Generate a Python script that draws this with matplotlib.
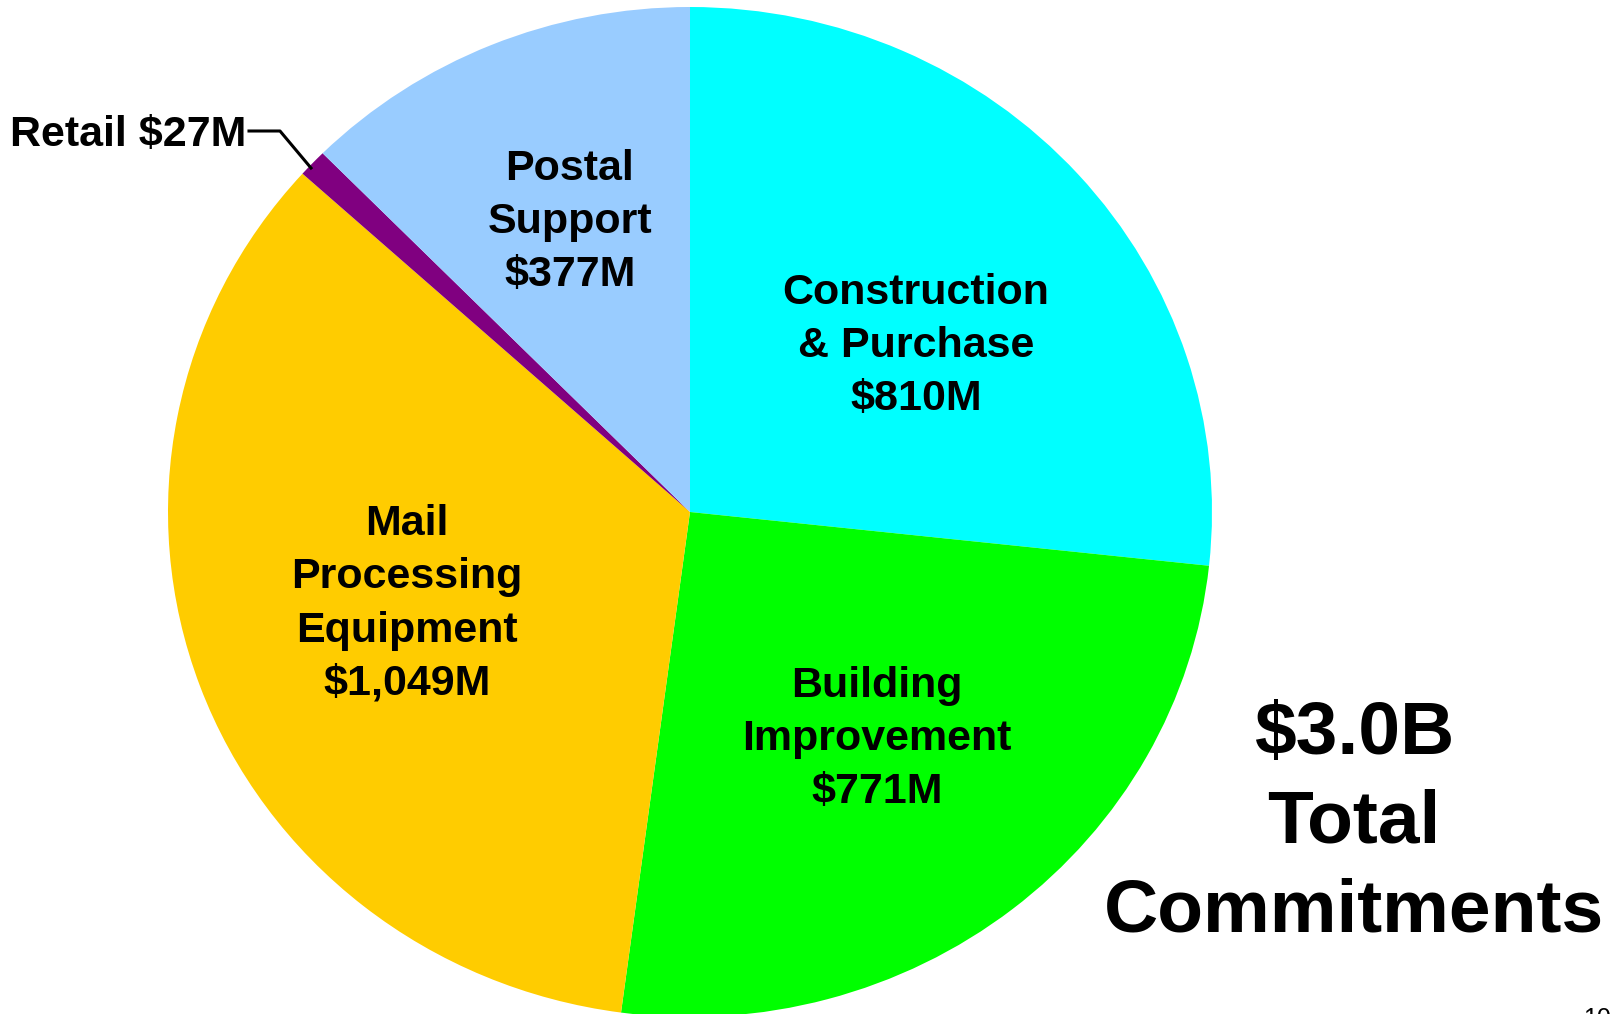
import matplotlib
matplotlib.use('Agg')
import matplotlib.pyplot as plt
from matplotlib.lines import Line2D

# Данные
categories = ['Construction\n& Purchase', 'Building\nImprovement', 'Mail\nProcessing\nEquipment',
              'Retail', 'Postal\nSupport']
values = [810, 771, 1049, 27, 377]
value_labels = ['$810M', '$771M', '$1,049M', '$27M', '$377M']
colors = ['#00FFFF', '#00FF00', '#FFCC00', '#800080', '#99CCFF']
total_text = '$3.0B\nTotal\nCommitments'

W, H = 1621, 1014
plt.rcParams['font.family'] = ['Liberation Sans', 'DejaVu Sans']

fig = plt.figure(figsize=(W / 100, H / 100), dpi=100)
ax = fig.add_axes([0, 0, 1, 1])

# эллипс: центр (690, 512), радиусы 522 x 505 пикселей
cx, cy, rx, ry = 690, 512, 522, 505
ax.pie(values, colors=colors, startangle=90, counterclock=False, radius=1,
       wedgeprops={'linewidth': 0})
ax.set_aspect('auto')
ax.set_xlim(-cx / rx, (W - cx) / rx)
ax.set_ylim(-(H - cy) / ry, cy / ry)
ax.axis('off')


def fx(x):
    return x / W


def fy(y):
    return 1 - y / H


# подписи секторов (в пикселях)
label_pos = {0: (916, 346), 1: (877, 739), 2: (407, 604), 4: (570, 222)}
for i, (x, y) in label_pos.items():
    fig.text(fx(x), fy(y), categories[i] + '\n' + value_labels[i], ha='center', va='center',
             fontsize=31, fontweight='bold', linespacing=1.43)

# Retail с выноской
fig.text(fx(246), fy(135), categories[3] + ' ' + value_labels[3], ha='right', va='center',
         fontsize=31, fontweight='bold')
fig.add_artist(Line2D([fx(249), fx(280), fx(311)], [fy(131), fy(131), fy(168)],
                      transform=fig.transFigure, color='black', linewidth=2.2))

# итог
fig.text(fx(1354), fy(823), total_text, ha='center', va='center',
         fontsize=54, fontweight='bold', linespacing=1.37)

# номер страницы (обрезан)
fig.text(fx(1597), fy(1007), '10', ha='center', va='top', fontsize=18)

fig.savefig('out.png', dpi=100)
